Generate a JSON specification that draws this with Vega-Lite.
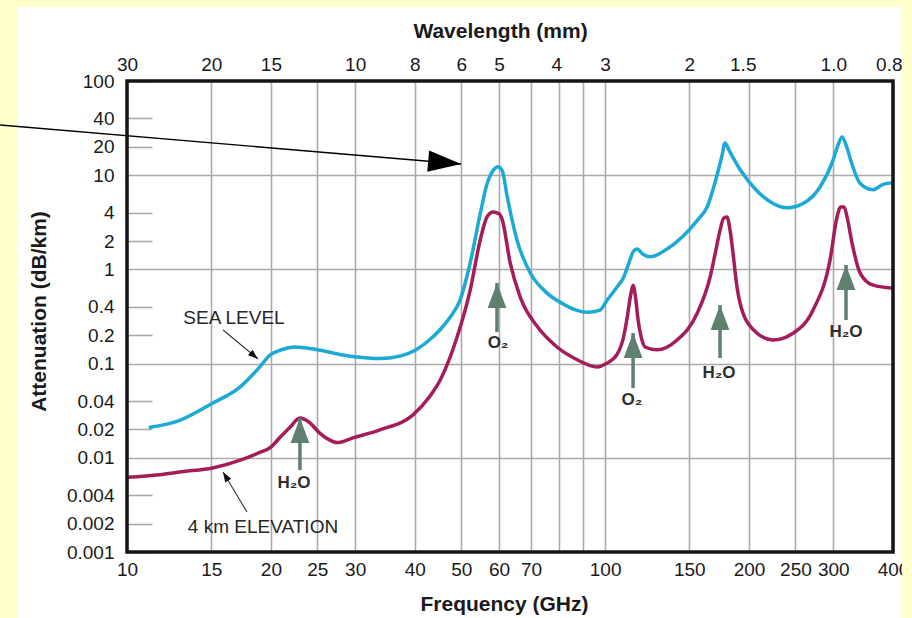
{
  "$schema": "https://vega.github.io/schema/vega-lite/v6.json",
  "width": 766,
  "height": 471,
  "autosize": {"type": "none"},
  "padding": {"left": 127, "top": 81, "right": 19, "bottom": 66},
  "background": "#FFFFFF",
  "config": {
    "view": {"stroke": null, "fill": "#FFFFFF"},
    "font": "Liberation Sans",
    "axis": {"labelFont": "Liberation Sans", "titleFont": "Liberation Sans"},
    "text": {"font": "Liberation Sans"}
  },
  "datasets": {
    "curves": [
      {"f": 11.1, "a": 0.021, "s": "Sea level"},
      {"f": 12.9, "a": 0.025, "s": "Sea level"},
      {"f": 15.1, "a": 0.038, "s": "Sea level"},
      {"f": 17.2, "a": 0.056, "s": "Sea level"},
      {"f": 18.8, "a": 0.088, "s": "Sea level"},
      {"f": 20.0, "a": 0.125, "s": "Sea level"},
      {"f": 21.0, "a": 0.14, "s": "Sea level"},
      {"f": 22.5, "a": 0.15, "s": "Sea level"},
      {"f": 24.7, "a": 0.142, "s": "Sea level"},
      {"f": 27.9, "a": 0.125, "s": "Sea level"},
      {"f": 30.0, "a": 0.118, "s": "Sea level"},
      {"f": 33.8, "a": 0.113, "s": "Sea level"},
      {"f": 37.2, "a": 0.12, "s": "Sea level"},
      {"f": 40.0, "a": 0.138, "s": "Sea level"},
      {"f": 43.0, "a": 0.18, "s": "Sea level"},
      {"f": 45.2, "a": 0.23, "s": "Sea level"},
      {"f": 47.4, "a": 0.31, "s": "Sea level"},
      {"f": 49.7, "a": 0.47, "s": "Sea level"},
      {"f": 52.2, "a": 1.17, "s": "Sea level"},
      {"f": 54.8, "a": 3.9, "s": "Sea level"},
      {"f": 56.6, "a": 8.0, "s": "Sea level"},
      {"f": 58.3, "a": 11.2, "s": "Sea level"},
      {"f": 59.7, "a": 12.3, "s": "Sea level"},
      {"f": 61.0, "a": 11.0, "s": "Sea level"},
      {"f": 62.3, "a": 6.2, "s": "Sea level"},
      {"f": 65.4, "a": 2.05, "s": "Sea level"},
      {"f": 69.7, "a": 0.92, "s": "Sea level"},
      {"f": 75.6, "a": 0.56, "s": "Sea level"},
      {"f": 81.7, "a": 0.43, "s": "Sea level"},
      {"f": 87.0, "a": 0.37, "s": "Sea level"},
      {"f": 92.0, "a": 0.35, "s": "Sea level"},
      {"f": 97.6, "a": 0.37, "s": "Sea level"},
      {"f": 100.9, "a": 0.47, "s": "Sea level"},
      {"f": 105.9, "a": 0.65, "s": "Sea level"},
      {"f": 109.0, "a": 0.8, "s": "Sea level"},
      {"f": 112.7, "a": 1.26, "s": "Sea level"},
      {"f": 114.5, "a": 1.55, "s": "Sea level"},
      {"f": 116.6, "a": 1.65, "s": "Sea level"},
      {"f": 120.0, "a": 1.45, "s": "Sea level"},
      {"f": 124.2, "a": 1.36, "s": "Sea level"},
      {"f": 134.8, "a": 1.65, "s": "Sea level"},
      {"f": 145.5, "a": 2.25, "s": "Sea level"},
      {"f": 155.7, "a": 3.3, "s": "Sea level"},
      {"f": 163.4, "a": 4.6, "s": "Sea level"},
      {"f": 171.4, "a": 10.0, "s": "Sea level"},
      {"f": 175.5, "a": 16.0, "s": "Sea level"},
      {"f": 178.1, "a": 22.0, "s": "Sea level"},
      {"f": 182.0, "a": 18.0, "s": "Sea level"},
      {"f": 191.5, "a": 11.5, "s": "Sea level"},
      {"f": 207.9, "a": 6.8, "s": "Sea level"},
      {"f": 224.5, "a": 5.0, "s": "Sea level"},
      {"f": 240.2, "a": 4.5, "s": "Sea level"},
      {"f": 259.4, "a": 5.0, "s": "Sea level"},
      {"f": 281.5, "a": 7.5, "s": "Sea level"},
      {"f": 299.8, "a": 14.5, "s": "Sea level"},
      {"f": 306.0, "a": 20.0, "s": "Sea level"},
      {"f": 313.0, "a": 25.5, "s": "Sea level"},
      {"f": 320.0, "a": 20.0, "s": "Sea level"},
      {"f": 328.4, "a": 13.0, "s": "Sea level"},
      {"f": 341.3, "a": 8.2, "s": "Sea level"},
      {"f": 363.4, "a": 7.0, "s": "Sea level"},
      {"f": 381.4, "a": 8.0, "s": "Sea level"},
      {"f": 400.0, "a": 8.3, "s": "Sea level"},
      {"f": 10.0, "a": 0.0062, "s": "4 km elevation"},
      {"f": 11.7, "a": 0.0066, "s": "4 km elevation"},
      {"f": 13.0, "a": 0.0071, "s": "4 km elevation"},
      {"f": 15.1, "a": 0.0078, "s": "4 km elevation"},
      {"f": 17.2, "a": 0.0094, "s": "4 km elevation"},
      {"f": 18.8, "a": 0.0112, "s": "4 km elevation"},
      {"f": 20.0, "a": 0.013, "s": "4 km elevation"},
      {"f": 20.9, "a": 0.0165, "s": "4 km elevation"},
      {"f": 21.9, "a": 0.021, "s": "4 km elevation"},
      {"f": 23.0, "a": 0.0264, "s": "4 km elevation"},
      {"f": 24.0, "a": 0.024, "s": "4 km elevation"},
      {"f": 25.3, "a": 0.0183, "s": "4 km elevation"},
      {"f": 26.5, "a": 0.0155, "s": "4 km elevation"},
      {"f": 27.5, "a": 0.0145, "s": "4 km elevation"},
      {"f": 29.7, "a": 0.0163, "s": "4 km elevation"},
      {"f": 33.8, "a": 0.0198, "s": "4 km elevation"},
      {"f": 39.6, "a": 0.0284, "s": "4 km elevation"},
      {"f": 43.0, "a": 0.045, "s": "4 km elevation"},
      {"f": 45.2, "a": 0.067, "s": "4 km elevation"},
      {"f": 49.0, "a": 0.19, "s": "4 km elevation"},
      {"f": 52.2, "a": 0.6, "s": "4 km elevation"},
      {"f": 54.8, "a": 2.05, "s": "4 km elevation"},
      {"f": 56.6, "a": 3.6, "s": "4 km elevation"},
      {"f": 58.3, "a": 4.07, "s": "4 km elevation"},
      {"f": 60.0, "a": 3.9, "s": "4 km elevation"},
      {"f": 60.9, "a": 3.4, "s": "4 km elevation"},
      {"f": 63.3, "a": 1.17, "s": "4 km elevation"},
      {"f": 66.4, "a": 0.51, "s": "4 km elevation"},
      {"f": 72.0, "a": 0.25, "s": "4 km elevation"},
      {"f": 79.3, "a": 0.15, "s": "4 km elevation"},
      {"f": 87.4, "a": 0.11, "s": "4 km elevation"},
      {"f": 96.2, "a": 0.092, "s": "4 km elevation"},
      {"f": 100.5, "a": 0.1, "s": "4 km elevation"},
      {"f": 105.9, "a": 0.125, "s": "4 km elevation"},
      {"f": 109.5, "a": 0.2, "s": "4 km elevation"},
      {"f": 111.1, "a": 0.3, "s": "4 km elevation"},
      {"f": 113.2, "a": 0.55, "s": "4 km elevation"},
      {"f": 114.4, "a": 0.68, "s": "4 km elevation"},
      {"f": 115.8, "a": 0.5, "s": "4 km elevation"},
      {"f": 117.2, "a": 0.29, "s": "4 km elevation"},
      {"f": 119.0, "a": 0.19, "s": "4 km elevation"},
      {"f": 121.2, "a": 0.15, "s": "4 km elevation"},
      {"f": 128.4, "a": 0.14, "s": "4 km elevation"},
      {"f": 141.4, "a": 0.178, "s": "4 km elevation"},
      {"f": 155.7, "a": 0.34, "s": "4 km elevation"},
      {"f": 165.8, "a": 0.83, "s": "4 km elevation"},
      {"f": 170.0, "a": 1.5, "s": "4 km elevation"},
      {"f": 173.9, "a": 2.6, "s": "4 km elevation"},
      {"f": 177.0, "a": 3.5, "s": "4 km elevation"},
      {"f": 179.9, "a": 3.6, "s": "4 km elevation"},
      {"f": 182.5, "a": 2.6, "s": "4 km elevation"},
      {"f": 185.1, "a": 1.5, "s": "4 km elevation"},
      {"f": 188.0, "a": 0.75, "s": "4 km elevation"},
      {"f": 191.5, "a": 0.44, "s": "4 km elevation"},
      {"f": 203.9, "a": 0.23, "s": "4 km elevation"},
      {"f": 224.5, "a": 0.178, "s": "4 km elevation"},
      {"f": 247.2, "a": 0.21, "s": "4 km elevation"},
      {"f": 272.2, "a": 0.37, "s": "4 km elevation"},
      {"f": 295.4, "a": 1.26, "s": "4 km elevation"},
      {"f": 305.5, "a": 3.6, "s": "4 km elevation"},
      {"f": 311.0, "a": 4.6, "s": "4 km elevation"},
      {"f": 316.0, "a": 4.6, "s": "4 km elevation"},
      {"f": 321.0, "a": 3.5, "s": "4 km elevation"},
      {"f": 328.4, "a": 1.9, "s": "4 km elevation"},
      {"f": 341.3, "a": 0.92, "s": "4 km elevation"},
      {"f": 363.4, "a": 0.68, "s": "4 km elevation"},
      {"f": 400.0, "a": 0.63, "s": "4 km elevation"}
    ],
    "lines": [
      {"f": 23.0, "tip": 0.0264, "base": 0.0074, "lf": 22.35, "lv": 0.0054, "label": "H₂O"},
      {"f": 59.4, "tip": 0.718, "base": 0.216, "lf": 59.7, "lv": 0.1655, "label": "O₂"},
      {"f": 114.4, "tip": 0.211, "base": 0.0551, "lf": 113.8, "lv": 0.0411, "label": "O₂"},
      {"f": 173.9, "tip": 0.419, "base": 0.1146, "lf": 173.1, "lv": 0.0794, "label": "H₂O"},
      {"f": 319.0, "tip": 1.113, "base": 0.29, "lf": 319.0, "lv": 0.216, "label": "H₂O"}
    ],
    "pointers": [
      {"name": "sea", "f1": 15.88, "v1": 0.2274, "f2": 18.79, "v2": 0.112},
      {"name": "elev", "f1": 17.82, "v1": 0.00266, "f2": 15.88, "v2": 0.00706},
      {"name": "main", "f1": 5.43, "v1": 34.1, "f2": 49.97, "v2": 13.15}
    ],
    "notes": [
      {"f": 16.74, "v": 0.305, "text": "SEA LEVEL"},
      {"f": 19.25, "v": 0.00184, "text": "4 km ELEVATION"}
    ]
  },
  "resolve": {"axis": {"x": "independent", "y": "independent"}},
  "layer": [
    {
      "data": {"name": "curves"},
      "mark": {"type": "line", "interpolate": "monotone", "strokeWidth": 3.5},
      "encoding": {
        "x": {
          "field": "f", "type": "quantitative",
          "scale": {"type": "log", "domain": [10, 400], "nice": false},
          "axis": {
            "orient": "bottom",
            "values": [10, 15, 20, 25, 30, 40, 50, 60, 70, 80, 90, 100, 150, 200, 250, 300, 400],
            "labelExpr": "datum.value==80||datum.value==90?'':format(datum.value,'d')",
            "grid": true, "gridColor": "#aaaaaa", "gridWidth": 1.6,
            "ticks": false, "tickSize": 0, "domain": false,
            "labelFontSize": 19, "labelColor": "#1a1a1a", "labelPadding": 8,
            "labelFlush": false, "labelOverlap": false, "labelBound": false,
            "title": "Frequency (GHz)", "titleFontSize": 21, "titleFontWeight": "bold", "titleColor": "#1a1a1a",
            "titleX": 377, "titleY": 52, "titleBaseline": "middle", "titleAlign": "center"
          }
        },
        "y": {
          "field": "a", "type": "quantitative",
          "scale": {"type": "log", "domain": [0.001, 100], "nice": false},
          "axis": {
            "orient": "left",
            "values": [0.001, 0.002, 0.004, 0.01, 0.02, 0.04, 0.1, 0.2, 0.4, 1, 2, 4, 10, 20, 40, 100],
            "labelExpr": "datum.value + ''",
            "grid": false, "ticks": false, "tickSize": 0, "domain": false,
            "labelFontSize": 19, "labelColor": "#1a1a1a", "labelPadding": 13,
            "labelFlush": false, "labelOverlap": false, "labelBound": false,
            "title": "Attenuation (dB/km)", "titleFontSize": 21, "titleFontWeight": "bold", "titleColor": "#1a1a1a",
            "titleX": -88, "titleY": 230, "titleBaseline": "middle", "titleAlign": "center", "titleAngle": 270
          }
        },
        "color": {
          "field": "s", "type": "nominal",
          "scale": {"domain": ["Sea level", "4 km elevation"], "range": ["#1CA9D6", "#A51C5A"]},
          "legend": null
        }
      }
    },
    {
      "data": {"values": [{}]},
      "mark": {"type": "rect", "fill": "#FFFFCC", "stroke": null},
      "encoding": {
        "x": {"datum": 5.0, "type": "quantitative", "axis": null},
        "x2": {"datum": 5.888},
        "y": {"datum": 0.0001, "type": "quantitative", "axis": null},
        "y2": {"datum": 1000}
      }
    },
    {
      "data": {"values": [{}]},
      "mark": {"type": "rect", "fill": "#FFFFCC", "stroke": null},
      "encoding": {
        "x": {"datum": 5.0, "type": "quantitative", "axis": null},
        "x2": {"datum": 500},
        "y": {"datum": 610.4, "type": "quantitative", "axis": null},
        "y2": {"datum": 1000}
      }
    },
    {
      "data": {"values": [{}]},
      "mark": {"type": "rect", "fill": "#FFFFCC", "stroke": null},
      "encoding": {
        "x": {"datum": 417.9, "type": "quantitative", "axis": null},
        "x2": {"datum": 500},
        "y": {"datum": 0.0001, "type": "quantitative", "axis": null},
        "y2": {"datum": 1000}
      }
    },
    {
      "data": {"name": "lines"},
      "mark": {"type": "rule", "color": "#5F7F6F", "strokeWidth": 3.5},
      "encoding": {
        "x": {
          "field": "f", "type": "quantitative",
          "axis": {
            "orient": "top",
            "values": [10, 15, 20, 30, 40, 50, 60, 79, 100, 150, 194, 300, 392],
            "labelExpr": "datum.value==10?'30':datum.value==15?'20':datum.value==20?'15':datum.value==30?'10':datum.value==40?'8':datum.value==50?'6':datum.value==60?'5':datum.value==79?'4':datum.value==100?'3':datum.value==150?'2':datum.value==194?'1.5':datum.value==300?'1.0':'0.8'",
            "grid": false, "ticks": false, "tickSize": 0, "domain": false,
            "labelFontSize": 19, "labelColor": "#1a1a1a", "labelPadding": 7,
            "labelFlush": false, "labelOverlap": false, "labelBound": false,
            "title": "Wavelength (mm)", "titleFontSize": 21, "titleFontWeight": "bold", "titleColor": "#1a1a1a",
            "titleX": 373, "titleY": -50, "titleBaseline": "middle", "titleAlign": "center"
          }
        },
        "y": {
          "field": "base", "type": "quantitative",
          "axis": {
            "orient": "left",
            "values": [0.001, 0.002, 0.004, 0.01, 0.02, 0.04, 0.1, 0.2, 0.4, 1, 2, 4, 10, 20, 40, 100],
            "grid": true, "gridColor": "#aaaaaa", "gridWidth": 1.6,
            "gridDash": {"condition": {"test": "datum.value==0.01||datum.value==0.1||datum.value==1||datum.value==10", "value": []}, "value": [25, 3000]},
            "labels": false, "ticks": false, "domain": false, "title": null
          }
        },
        "y2": {"field": "tip"}
      }
    },
    {
      "data": {"name": "lines"},
      "mark": {"type": "point", "shape": "M0,0L0.75,2L-0.75,2Z", "filled": true, "color": "#5F7F6F", "opacity": 1, "size": 625, "strokeWidth": 0},
      "encoding": {
        "x": {"field": "f", "type": "quantitative", "axis": null},
        "y": {"field": "tip", "type": "quantitative", "axis": null}
      }
    },
    {
      "data": {"name": "lines"},
      "mark": {"type": "text", "fontSize": 17, "fontWeight": "bold", "color": "#2e2e2e", "align": "center", "baseline": "middle"},
      "encoding": {
        "x": {"field": "lf", "type": "quantitative", "axis": null},
        "y": {"field": "lv", "type": "quantitative", "axis": null},
        "text": {"field": "label"}
      }
    },
    {
      "data": {"name": "pointers"},
      "transform": [{"filter": "datum.name != 'main'"}],
      "mark": {"type": "rule", "color": "#333333", "strokeWidth": 1.1},
      "encoding": {
        "x": {"field": "f1", "type": "quantitative", "axis": null},
        "y": {"field": "v1", "type": "quantitative", "axis": null},
        "x2": {"field": "f2"},
        "y2": {"field": "v2"}
      }
    },
    {
      "data": {"name": "pointers"},
      "transform": [{"filter": "datum.name == 'main'"}],
      "mark": {"type": "rule", "color": "#000000", "strokeWidth": 1.3},
      "encoding": {
        "x": {"field": "f1", "type": "quantitative", "axis": null},
        "y": {"field": "v1", "type": "quantitative", "axis": null},
        "x2": {"field": "f2"},
        "y2": {"field": "v2"}
      }
    },
    {
      "data": {"name": "pointers"},
      "transform": [{"filter": "datum.name == 'main'"}],
      "mark": {"type": "point", "shape": "M0,0L-2,-0.64L-2,0.64Z", "filled": true, "color": "#000000", "opacity": 1, "size": 1089, "angle": 5, "strokeWidth": 0},
      "encoding": {
        "x": {"field": "f2", "type": "quantitative", "axis": null},
        "y": {"field": "v2", "type": "quantitative", "axis": null}
      }
    },
    {
      "data": {"name": "pointers"},
      "transform": [{"filter": "datum.name == 'sea'"}],
      "mark": {"type": "point", "shape": "M0,0L-2,-0.7L-2,0.7Z", "filled": true, "color": "#111111", "opacity": 1, "size": 100, "angle": 40, "strokeWidth": 0},
      "encoding": {
        "x": {"field": "f2", "type": "quantitative", "axis": null},
        "y": {"field": "v2", "type": "quantitative", "axis": null}
      }
    },
    {
      "data": {"name": "pointers"},
      "transform": [{"filter": "datum.name == 'elev'"}],
      "mark": {"type": "point", "shape": "M0,0L-2,-0.7L-2,0.7Z", "filled": true, "color": "#111111", "opacity": 1, "size": 100, "angle": 239, "strokeWidth": 0},
      "encoding": {
        "x": {"field": "f2", "type": "quantitative", "axis": null},
        "y": {"field": "v2", "type": "quantitative", "axis": null}
      }
    },
    {
      "data": {"name": "notes"},
      "mark": {"type": "text", "fontSize": 19, "color": "#262626", "align": "center", "baseline": "middle"},
      "encoding": {
        "x": {"field": "f", "type": "quantitative", "axis": null},
        "y": {"field": "v", "type": "quantitative", "axis": null},
        "text": {"field": "text"}
      }
    },
    {
      "data": {"values": [{}]},
      "mark": {"type": "rect", "fill": null, "fillOpacity": 0, "stroke": "#151515", "strokeWidth": 3.5},
      "encoding": {
        "x": {"datum": 10, "type": "quantitative", "axis": null},
        "x2": {"datum": 400},
        "y": {"datum": 0.001, "type": "quantitative", "axis": null},
        "y2": {"datum": 100}
      }
    }
  ]
}
